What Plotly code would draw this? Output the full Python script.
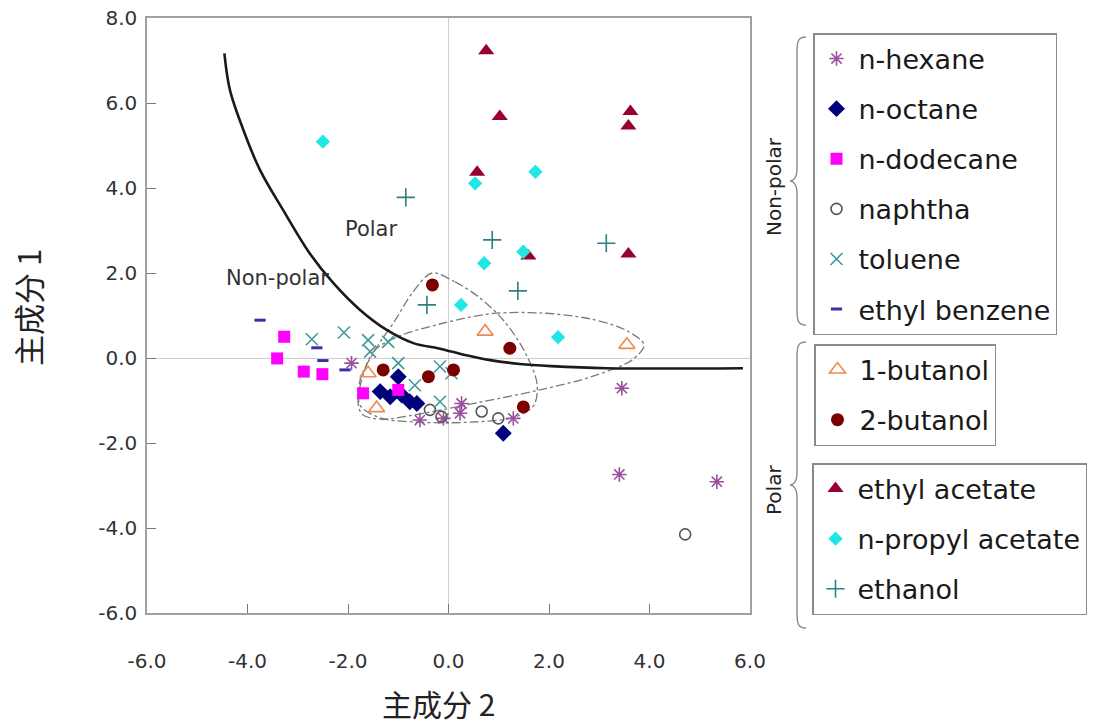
import plotly.graph_objects as go

# ---------------- data ----------------
n_hexane_x = [-1.93, -0.57, -0.10, 0.26, 0.23, 1.29, 3.45, 3.40, 5.34]
n_hexane_y = [-0.12, -1.46, -1.42, -1.07, -1.30, -1.42, -0.71, -2.74, -2.91]

n_octane_x = [-1.00, -1.36, -1.16, -0.93, -0.77, -0.63, 1.09]
n_octane_y = [-0.44, -0.79, -0.91, -0.87, -1.03, -1.07, -1.77]

n_dodecane_x = [-3.27, -3.41, -2.88, -2.51, -1.70, -1.00]
n_dodecane_y = [0.50, -0.01, -0.32, -0.38, -0.83, -0.75]

naphtha_x = [-0.37, -0.14, 0.66, 0.99, 4.71]
naphtha_y = [-1.22, -1.38, -1.26, -1.42, -4.15]

toluene_x = [-2.72, -2.08, -1.60, -1.20, -1.56, -1.00, -0.17, 0.06, -0.67, -0.17]
toluene_y = [0.44, 0.60, 0.42, 0.38, 0.15, -0.12, -0.20, -0.36, -0.64, -1.03]

ethyl_benzene_x = [-3.75, -2.62, -2.50, -2.06]
ethyl_benzene_y = [0.89, 0.24, -0.06, -0.28]

butanol1_x = [0.73, 3.55, -1.60, -1.43]
butanol1_y = [0.62, 0.31, -0.36, -1.18]

butanol2_x = [-0.32, -1.30, -0.40, 0.10, 1.22, 1.49]
butanol2_y = [1.72, -0.28, -0.44, -0.28, 0.23, -1.15]

ethyl_acetate_x = [0.75, 1.02, 3.62, 3.58, 0.57, 1.59, 3.58]
ethyl_acetate_y = [7.23, 5.68, 5.80, 5.46, 4.37, 2.40, 2.45]

propyl_acetate_x = [-2.50, 0.53, 1.73, 1.49, 0.71, 0.25, 2.18]
propyl_acetate_y = [5.09, 4.11, 4.38, 2.50, 2.23, 1.25, 0.49]

ethanol_x = [-0.85, 0.87, 3.14, 1.38, -0.43]
ethanol_y = [3.78, 2.78, 2.70, 1.58, 1.25]

# boundary curve between polar / non-polar
boundary_x = [-4.46, -4.35, -4.08, -3.75, -3.29, -2.76, -2.29, -1.76, -1.23,
              -0.70, -0.17, 0.33, 0.83, 1.42, 2.04, 3.15, 5.86]
boundary_y = [7.17, 6.31, 5.36, 4.42, 3.48, 2.46, 1.76, 1.13, 0.66,
              0.35, 0.22, 0.07, -0.05, -0.14, -0.19, -0.24, -0.24]

# dash-dot outlines
outline_a_x = [-0.33, 0.13, 0.63, 1.12, 1.52, 1.76, 1.70, 1.32, 0.43, -0.57,
               -1.36, -1.76, -1.76, -1.46, -1.06, -0.71, -0.33]
outline_a_y = [2.00, 1.79, 1.41, 0.85, 0.14, -0.59, -1.11, -1.39, -1.51, -1.51,
               -1.41, -1.11, -0.52, 0.19, 0.89, 1.55, 2.00]
outline_b_x = [-1.80, -1.50, -0.97, -0.17, 0.83, 1.82, 2.82, 3.52, 3.89, 3.65,
               2.82, 1.82, 0.63, -0.37, -1.36, -1.72, -1.80]
outline_b_y = [-0.99, 0.14, 0.52, 0.80, 1.04, 1.06, 0.92, 0.66, 0.31, -0.05,
               -0.45, -0.75, -1.04, -1.27, -1.44, -1.32, -0.99]

x_ticks = [-6, -4, -2, 0, 2, 4, 6]
x_tick_text = ["-6.0", "-4.0", "-2.0", "0.0", "2.0", "4.0", "6.0"]
y_ticks = [-6, -4, -2, 0, 2, 4, 6, 8]
y_tick_text = ["-6.0", "-4.0", "-2.0", "0.0", "2.0", "4.0", "6.0", "8.0"]

FONT = "DejaVu Sans"
CJK = "Noto Sans CJK SC"

fig = go.Figure()

for ox, oy in [(outline_a_x, outline_a_y), (outline_b_x, outline_b_y)]:
    fig.add_trace(go.Scatter(x=ox, y=oy, mode="lines", showlegend=False,
                             hoverinfo="skip",
                             line=dict(color="#7a7a7a", width=1.3, dash="dashdot",
                                       shape="spline", smoothing=0.9)))

fig.add_trace(go.Scatter(x=boundary_x, y=boundary_y, mode="lines", showlegend=False,
                         hoverinfo="skip",
                         line=dict(color="#1a1a1a", width=2.6, shape="spline",
                                   smoothing=1.0)))

series = [
    ("n-hexane", n_hexane_x, n_hexane_y, "asterisk-open", "#9b4f9f", 12, "legend"),
    ("n-octane", n_octane_x, n_octane_y, "diamond", "#00007a", 13, "legend"),
    ("n-dodecane", n_dodecane_x, n_dodecane_y, "square", "#ff00ff", 12, "legend"),
    ("naphtha", naphtha_x, naphtha_y, "circle-open", "#555555", 11, "legend"),
    ("toluene", toluene_x, toluene_y, "x-thin-open", "#3f9a9a", 12, "legend"),
    ("ethyl benzene", ethyl_benzene_x, ethyl_benzene_y, "line-ew-open", "#3434a8", 8, "legend"),
    ("1-butanol", butanol1_x, butanol1_y, "triangle-up-open", "#f08a55", 14, "legend2"),
    ("2-butanol", butanol2_x, butanol2_y, "circle", "#7d0000", 13, "legend2"),
    ("ethyl acetate", ethyl_acetate_x, ethyl_acetate_y, "triangle-up", "#98002e", 14, "legend3"),
    ("n-propyl acetate", propyl_acetate_x, propyl_acetate_y, "diamond", "#22e5e5", 11, "legend3"),
    ("ethanol", ethanol_x, ethanol_y, "cross-thin-open", "#2f7f7f", 13, "legend3"),
]

for i, (name, xs, ys, sym, col, size, leg) in enumerate(series):
    open_sym = sym.endswith("-open")
    lw = 3 if sym.startswith("line") else (1.6 if open_sym else 0)
    fig.add_trace(go.Scatter(
        x=xs, y=ys, mode="markers", name=name, legend=leg,
        legendgroup=f"g{i}",
        marker=dict(symbol=sym, size=size, color=col,
                    line=dict(color=col, width=lw)),
    ))

# ---------- layout geometry (pixels) ----------
W, H = 1102, 727
L, R, T, B = 147, 352, 18, 114
PW, PH = W - L - R, H - T - B


def px2paper(px, py):
    return (px - L) / PW, (H - B - py) / PH


def brace_path(xtip, xspine, xend, top, bot):
    mid = (top + bot) / 2
    pts = [
        ("M", [(xend, top)]),
        ("C", [(xspine + 1, top), (xspine, top + 4), (xspine, top + 16)]),
        ("L", [(xspine, mid - 12)]),
        ("C", [(xspine, mid - 3), (xtip + 3, mid), (xtip, mid)]),
        ("C", [(xtip + 3, mid), (xspine, mid + 3), (xspine, mid + 12)]),
        ("L", [(xspine, bot - 16)]),
        ("C", [(xspine, bot - 4), (xspine + 1, bot), (xend, bot)]),
    ]
    s = ""
    for cmd, ps in pts:
        s += cmd + " " + " ".join("%.5f,%.5f" % px2paper(a, b) for a, b in ps) + " "
    return s.strip()


shapes = []
for top, bot in [(37, 325), (342, 628)]:
    shapes.append(dict(type="path", xref="paper", yref="paper",
                       path=brace_path(790, 797, 806, top, bot),
                       line=dict(color="#8a8a8a", width=1.4)))


def paper_text(px, py, text, size, family=FONT, angle=0):
    x, y = px2paper(px, py)
    return dict(x=x, y=y, xref="paper", yref="paper", text=text, textangle=angle,
                showarrow=False, xanchor="center", yanchor="middle",
                font=dict(family=family, size=size, color="#222"))


annotations = [
    dict(x=-1.54, y=3.04, xref="x", yref="y", text="Polar", showarrow=False,
         xanchor="center", yanchor="middle",
         font=dict(family=FONT, size=21, color="#333")),
    dict(x=-3.40, y=1.89, xref="x", yref="y", text="Non-polar", showarrow=False,
         xanchor="center", yanchor="middle",
         font=dict(family=FONT, size=21, color="#333")),
    paper_text(774, 187, "Non-polar", 20, angle=-90),
    paper_text(774, 490, "Polar", 20, angle=-90),
    paper_text(438, 703, "主成分 2", 30, family=CJK),
    paper_text(27, 308, "主成分 1", 31, family=CJK, angle=-90),
]


def legend_box(px, py):
    x, y = px2paper(px, py)
    return dict(x=x, y=y, xanchor="left", yanchor="top",
                font=dict(family=FONT, size=27, color="#1a1a1a"),
                bordercolor="#8a8a8a", borderwidth=1.5, bgcolor="white",
                tracegroupgap=12, traceorder="grouped", itemwidth=34)


axis_common = dict(showgrid=False, showline=True, linecolor="#a0a0a0", linewidth=1.5,
                   mirror=True, ticks="inside", ticklen=9, tickcolor="#777",
                   tickwidth=1, zeroline=True, zerolinecolor="#cfcfcf",
                   zerolinewidth=1, tickfont=dict(family=FONT, size=20, color="#333"))

fig.update_layout(
    width=W, height=H,
    margin=dict(l=L, r=R, t=T, b=B, autoexpand=False),
    paper_bgcolor="white", plot_bgcolor="white",
    xaxis=dict(range=[-6, 6], tickvals=x_ticks, ticktext=x_tick_text,
               ticklabelstandoff=29, **axis_common),
    yaxis=dict(range=[-6, 8], tickvals=y_ticks, ticktext=y_tick_text,
               ticklabelstandoff=4, **axis_common),
    legend=legend_box(813, 33),
    legend2=legend_box(814, 344),
    legend3=legend_box(812, 463),
    shapes=shapes,
    annotations=annotations,
    showlegend=True,
)

fig.write_html("out.html")
